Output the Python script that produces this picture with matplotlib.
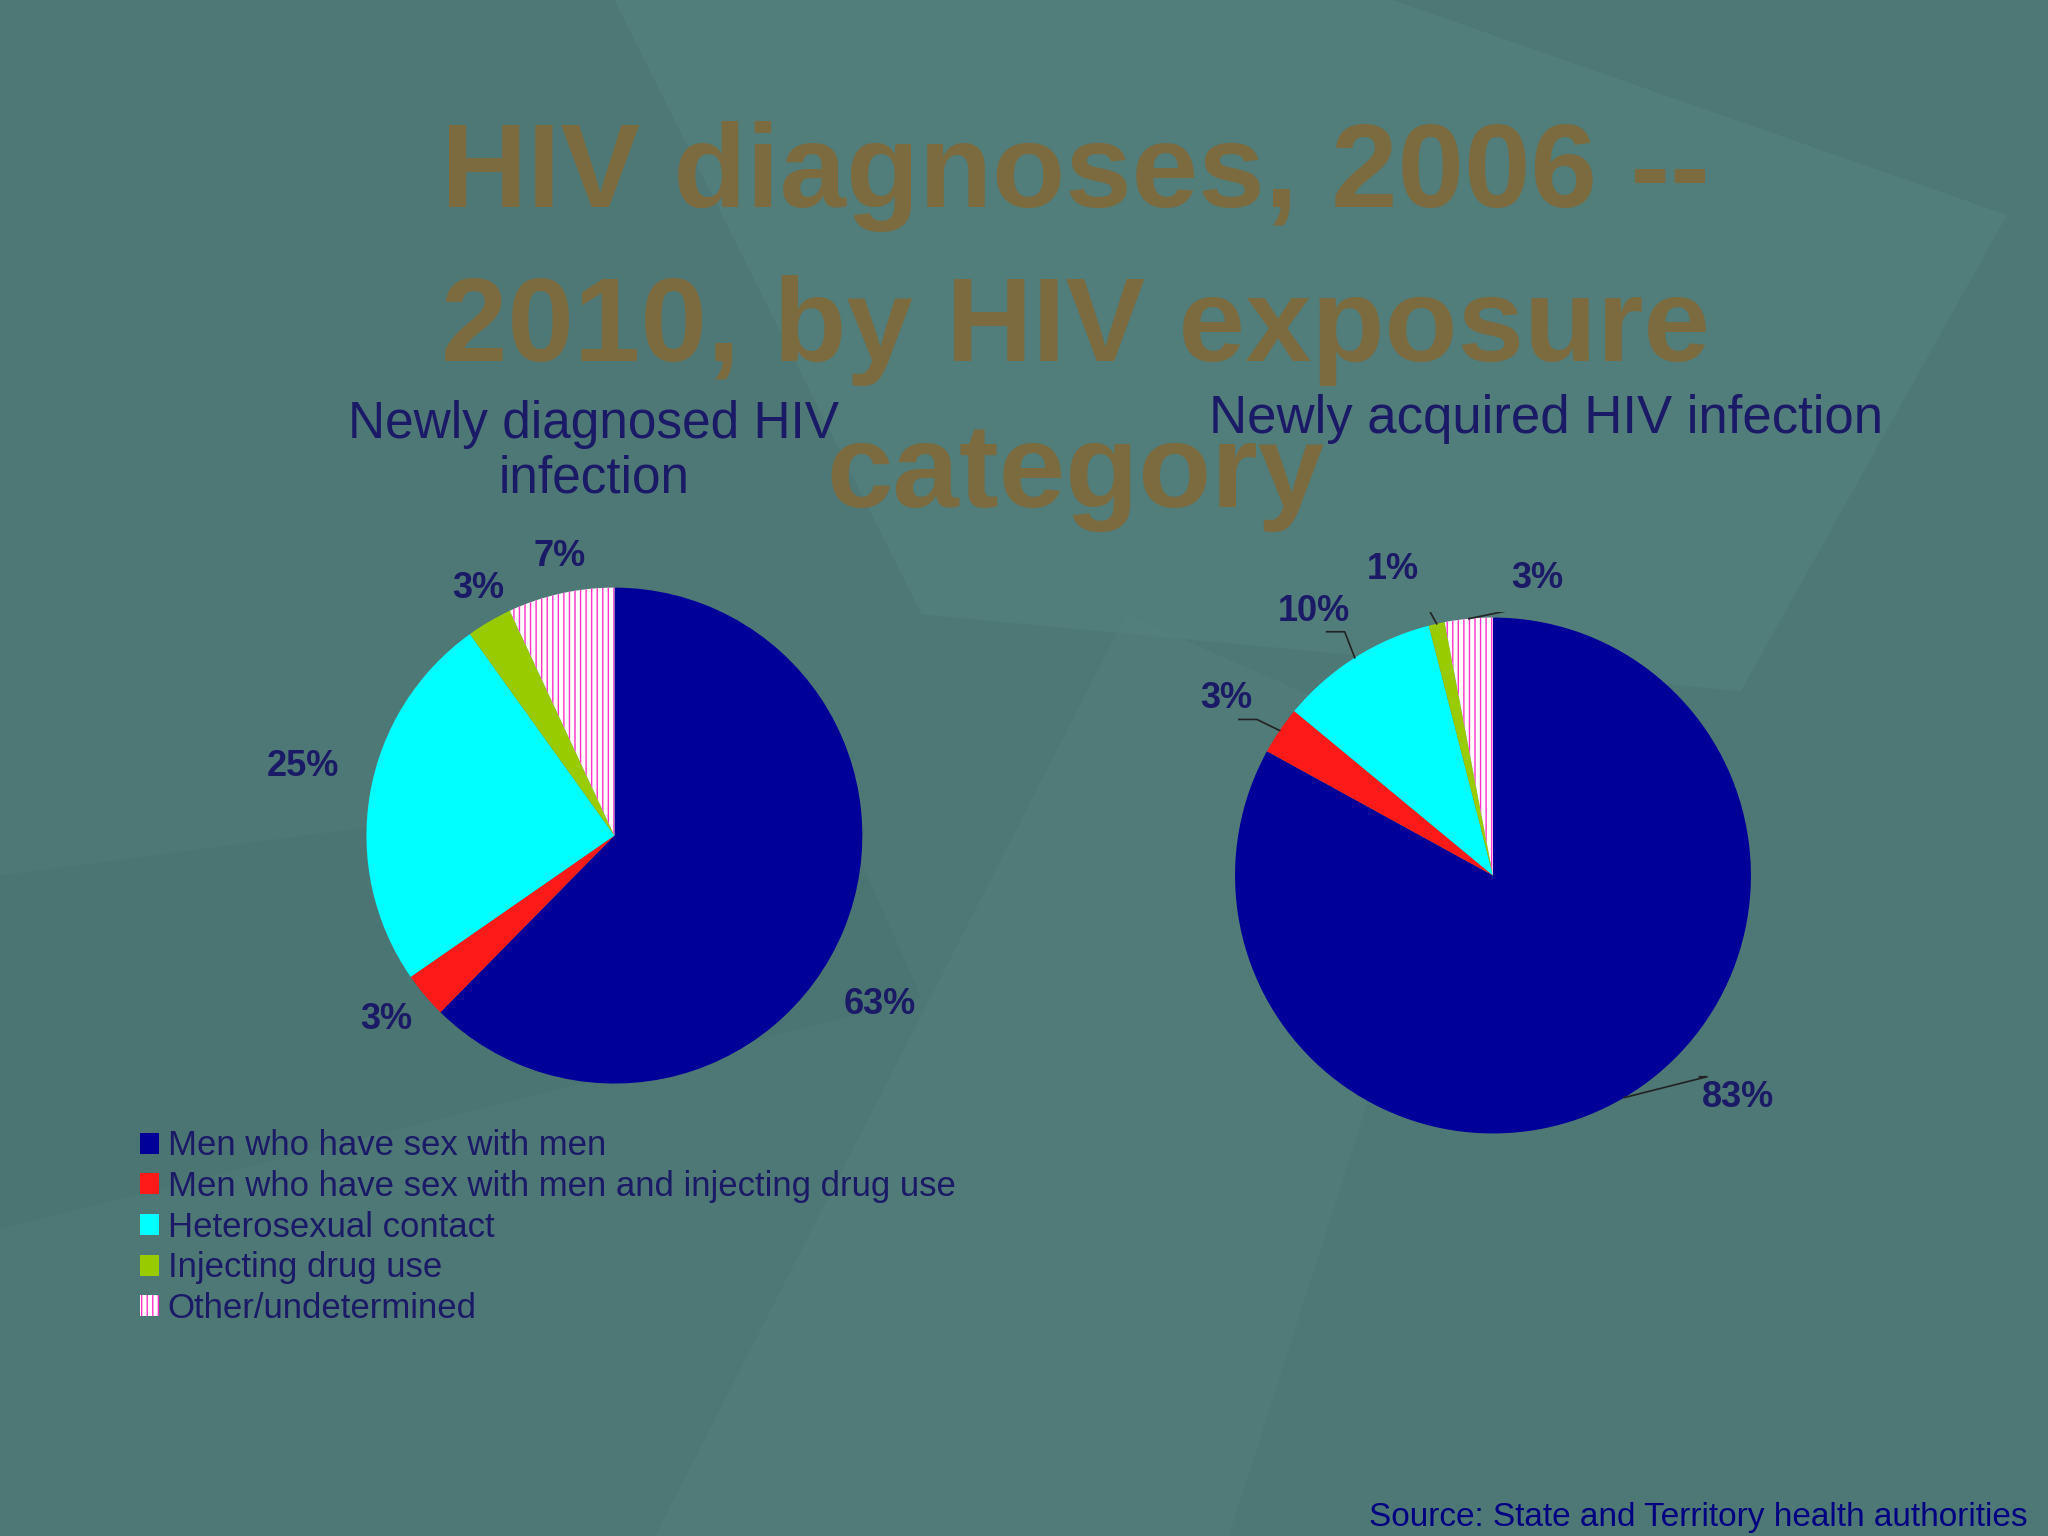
import matplotlib.pyplot as plt
import matplotlib.patches as mpatches
import numpy as np

plt.rcParams['font.family'] = ['Liberation Sans', 'DejaVu Sans']

categories = ['Men who have sex with men',
              'Men who have sex with men and injecting drug use',
              'Heterosexual contact', 'Injecting drug use', 'Other/undetermined']
diagnosed = [63, 3, 25, 3, 7]
acquired = [83, 3, 10, 1, 3]
colors = ['#000099', '#ff1a1a', '#00ffff', '#99cc00', '#ffffff']
txt = '#1a1a66'

# label positions, in pie-radius units
pos1 = [(1.07, -0.68), (-0.92, -0.74), (-1.255, 0.28), (-0.55, 0.995), (-0.22, 1.125)]
pos2 = [(0.95, -0.86), (-1.035, 0.685), (-0.695, 1.025), (-0.39, 1.185), (0.17, 1.15)]

fig = plt.figure(figsize=(20.48, 15.36), dpi=100)
fig.patch.set_facecolor('#4e7875')

bg = fig.add_axes([0, 0, 1, 1])
bg.set_xlim(0, 1); bg.set_ylim(0, 1); bg.axis('off')
bg.add_patch(mpatches.Polygon([[0.3, 1], [0.68, 1], [0.98, 0.86], [0.85, 0.55], [0.45, 0.6]],
                              color='#578584', alpha=0.4, lw=0))
bg.add_patch(mpatches.Polygon([[0.32, 0], [0.6, 0], [0.72, 0.5], [0.55, 0.6]],
                              color='#54817f', alpha=0.4, lw=0))
bg.add_patch(mpatches.Polygon([[0, 0.2], [0, 0.43], [0.4, 0.5], [0.45, 0.35]],
                              color='#476f6c', alpha=0.3, lw=0))

for yy, line in zip([0.885, 0.785, 0.69], ['HIV diagnoses, 2006 --', '2010, by HIV exposure', 'category']):
    fig.text(0.525, yy, line, ha='center', va='center', fontsize=86,
             fontweight='bold', color='#7b6b3f')

fig.text(0.29, 0.706, 'Newly diagnosed HIV\ninfection', ha='center', va='center',
         fontsize=37, color=txt, linespacing=1.15)
fig.text(0.755, 0.727, 'Newly acquired HIV infection', ha='center', va='center',
         fontsize=38, color=txt)


def draw_pie(cx, cy, rw, rh, vals, pos, leaders):
    ax = fig.add_axes([cx - rw, cy - rh, 2 * rw, 2 * rh])
    wedges, _ = ax.pie(vals, colors=colors, startangle=90, counterclock=False,
                       wedgeprops=dict(linewidth=0))
    wedges[-1].set_hatch('|||')
    wedges[-1].set_edgecolor('#ff33cc')
    ax.set_aspect('equal')
    total = sum(vals)
    ang = 90
    for v, (x, y) in zip(vals, pos):
        mid = np.deg2rad(ang - v / total * 180)
        ang -= v / total * 360
        if leaders:
            ex, ey = np.cos(mid), np.sin(mid)
            kx = x - 0.12 * np.sign(x) if abs(x) > 0.5 else x + 0.1
            ky = y - 0.08 * np.sign(y)
            ax.plot([ex, kx, x - 0.1 * np.sign(x) * (abs(x) > 0.5) - 0.05], [ey, ky, ky],
                    color='#222', lw=1.2)
        ax.text(x, y, f'{v}%', ha='center', va='center', fontsize=26,
                fontweight='bold', color=txt)
    ax.set_xlim(-1.02, 1.02); ax.set_ylim(-1.02, 1.02)
    ax.axis('off')
    return wedges


draw_pie(0.300, 0.456, 0.1235, 0.1647, diagnosed, pos1, False)
wedges = draw_pie(0.729, 0.430, 0.1285, 0.1713, acquired, pos2, True)

fig.legend(wedges, categories, loc='upper left', bbox_to_anchor=(0.053, 0.285),
           frameon=False, fontsize=25, labelcolor=txt, handlelength=0.55,
           handleheight=0.55, handletextpad=0.25, labelspacing=0.22)

fig.text(0.99, 0.002, 'Source: State and Territory health authorities', ha='right',
         va='bottom', fontsize=24, color='#000080')

fig.savefig('out.png', dpi=100, facecolor=fig.get_facecolor())
